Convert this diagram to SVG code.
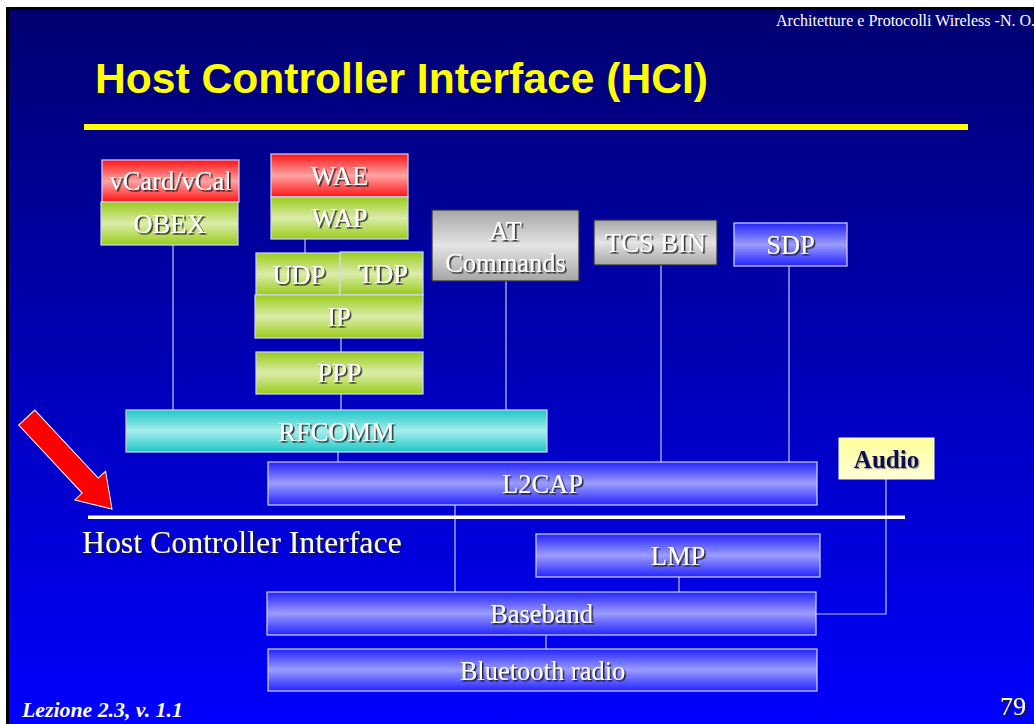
<svg xmlns="http://www.w3.org/2000/svg" width="1034" height="724" viewBox="0 0 1034 724">
<defs>
<linearGradient id="bg" x1="0" y1="0" x2="0" y2="1">
<stop offset="0" stop-color="#000070"/>
<stop offset="0.45" stop-color="#0000b0"/>
<stop offset="1" stop-color="#0000ff"/>
</linearGradient>
<linearGradient id="gGreen" x1="0" y1="0" x2="0" y2="1">
<stop offset="0" stop-color="#99cc1a"/>
<stop offset="0.5" stop-color="#dcecaa"/>
<stop offset="1" stop-color="#99cc1a"/>
</linearGradient>
<linearGradient id="gRed" x1="0" y1="0" x2="0" y2="1">
<stop offset="0" stop-color="#ff1414"/>
<stop offset="0.5" stop-color="#ffa4a4"/>
<stop offset="1" stop-color="#ff1414"/>
</linearGradient>
<linearGradient id="gGray" x1="0" y1="0" x2="0" y2="1">
<stop offset="0" stop-color="#a6a6a6"/>
<stop offset="0.5" stop-color="#e4e4e4"/>
<stop offset="1" stop-color="#a6a6a6"/>
</linearGradient>
<linearGradient id="gBlue" x1="0" y1="0" x2="0" y2="1">
<stop offset="0" stop-color="#2424ff"/>
<stop offset="0.5" stop-color="#9c9cff"/>
<stop offset="1" stop-color="#2424ff"/>
</linearGradient>
<linearGradient id="gCyan" x1="0" y1="0" x2="0" y2="1">
<stop offset="0" stop-color="#1ec6c6"/>
<stop offset="0.5" stop-color="#a8eeee"/>
<stop offset="1" stop-color="#1ec6c6"/>
</linearGradient>
<linearGradient id="gYellow" x1="0" y1="0" x2="0" y2="1">
<stop offset="0" stop-color="#ffff99"/>
<stop offset="1" stop-color="#ffffd8"/>
</linearGradient>
<filter id="sh" x="-10%" y="-20%" width="130%" height="150%">
<feDropShadow dx="1.6" dy="1.6" stdDeviation="0" flood-color="#1a1a1a" flood-opacity="0.9"/>
</filter>
<filter id="shL" x="-10%" y="-20%" width="130%" height="150%">
<feDropShadow dx="1.2" dy="1.2" stdDeviation="0" flood-color="#888888" flood-opacity="0.8"/>
</filter>
</defs>
<style>
.box { stroke: #d4d4ff; stroke-width: 1.2; }
.dark { stroke: #303030; stroke-width: 1.2; }
.lbl { font-family: "Liberation Serif", "Times New Roman", serif; font-size: 26.5px; fill: #ffffff; text-anchor: middle; filter: url(#sh); }
.conn line, .conn polyline { stroke: #c4c4ff; stroke-width: 1.2; fill: none; }
</style>

<!-- frame and background -->
<rect x="0" y="0" width="1034" height="724" fill="#ffffff"/>
<rect x="6" y="7" width="1028" height="717" fill="#000000"/>
<rect x="9" y="10" width="1025" height="714" fill="url(#bg)"/>

<text x="776" y="26" font-family="Liberation Serif, Times New Roman, serif" font-size="16" fill="#ffffff">Architetture e Protocolli Wireless -N. O.</text>
<text x="95" y="93" font-family="Liberation Sans, Arial, sans-serif" font-weight="bold" font-size="42.6" fill="#ffff00">Host Controller Interface (HCI)</text>
<rect x="84" y="124" width="884" height="6" fill="#ffff00"/>

<!-- connectors -->
<g id="connectors" class="conn">
<line x1="173" y1="245" x2="173" y2="410"/>
<line x1="305" y1="239" x2="305" y2="253"/>
<line x1="341" y1="338" x2="341" y2="352"/>
<line x1="341" y1="394" x2="341" y2="410"/>
<line x1="506" y1="281" x2="506" y2="410"/>
<line x1="661" y1="265" x2="661" y2="462"/>
<line x1="789" y1="266" x2="789" y2="462"/>
<line x1="338" y1="452" x2="338" y2="462"/>
<line x1="455" y1="505" x2="455" y2="592"/>
<line x1="679" y1="577" x2="679" y2="592"/>
<line x1="546" y1="635" x2="546" y2="649"/>
<polyline points="886,479 886,614 816,614"/>
</g>

<!-- nodes -->
<g id="vcard"><rect class="box" x="102" y="160" width="137" height="42" fill="url(#gRed)"/><text class="lbl" x="170.5" y="190">vCard/vCal</text></g>
<g id="obex"><rect class="box" x="101" y="202" width="137" height="43" fill="url(#gGreen)"/><text class="lbl" x="169.5" y="233">OBEX</text></g>
<g id="wae"><rect class="box" x="271" y="154" width="137" height="43" fill="url(#gRed)"/><text class="lbl" x="339.5" y="185">WAE</text></g>
<g id="wap"><rect class="box" x="271" y="197" width="137" height="42" fill="url(#gGreen)"/><text class="lbl" x="339.5" y="227">WAP</text></g>
<g id="udp"><rect class="box" x="256" y="253" width="84" height="42" fill="url(#gGreen)"/><text class="lbl" x="299" y="284">UDP</text></g>
<g id="tdp"><rect class="box" x="340" y="252" width="83" height="43" fill="url(#gGreen)"/><text class="lbl" x="383" y="283">TDP</text></g>
<g id="ip"><rect class="box" x="255" y="295" width="168" height="43" fill="url(#gGreen)"/><text class="lbl" x="339" y="326">IP</text></g>
<g id="ppp"><rect class="box" x="256" y="352" width="167" height="42" fill="url(#gGreen)"/><text class="lbl" x="339.5" y="382">PPP</text></g>
<g id="at"><rect class="dark" x="432" y="210" width="147" height="71" fill="url(#gGray)"/><text class="lbl" x="505.5" y="240">AT</text><text class="lbl" x="505.5" y="272">Commands</text></g>
<g id="tcsbin"><rect class="dark" x="594" y="220" width="123" height="45" fill="url(#gGray)"/><text class="lbl" x="655.5" y="252">TCS BIN</text></g>
<g id="sdp"><rect class="box" x="734" y="223" width="113" height="43" fill="url(#gBlue)"/><text class="lbl" x="790.5" y="254">SDP</text></g>
<g id="rfcomm"><rect class="box" x="126" y="410" width="421" height="42" fill="url(#gCyan)"/><text class="lbl" x="336.5" y="441">RFCOMM</text></g>
<g id="l2cap"><rect class="box" x="268" y="462" width="549" height="43" fill="url(#gBlue)"/><text class="lbl" x="542.5" y="493">L2CAP</text></g>
<g id="audio"><rect x="839" y="438" width="95" height="41" fill="url(#gYellow)" stroke="#ffffcc" stroke-width="1"/><text x="886.5" y="468" font-family="Liberation Serif, Times New Roman, serif" font-weight="bold" font-size="25" fill="#0a0a50" text-anchor="middle" filter="url(#shL)">Audio</text></g>
<g id="lmp"><rect class="box" x="536" y="534" width="284" height="43" fill="url(#gBlue)"/><text class="lbl" x="678" y="565">LMP</text></g>
<g id="baseband"><rect class="box" x="267" y="592" width="549" height="43" fill="url(#gBlue)"/><text class="lbl" x="541.5" y="623">Baseband</text></g>
<g id="radio"><rect class="box" x="268" y="649" width="549" height="42" fill="url(#gBlue)"/><text class="lbl" x="542.5" y="680">Bluetooth radio</text></g>

<!-- HCI boundary -->
<g id="hci">
<rect x="88" y="515.5" width="817" height="3.5" fill="#ffffff"/>
<text x="82" y="553" font-family="Liberation Serif, Times New Roman, serif" font-size="31.8" fill="#ffffff" filter="url(#sh)">Host Controller Interface</text>
</g>

<!-- red arrow -->
<g id="arrow" transform="translate(112,509) rotate(47)">
<polygon points="-125,-11 -32,-11 -32,-21 0,0 -32,21 -32,11 -125,11" fill="#ff0000" stroke="#ffffff" stroke-width="1"/>
</g>

<text x="22" y="717" font-family="Liberation Serif, Times New Roman, serif" font-weight="bold" font-style="italic" font-size="21.8" fill="#ffffff">Lezione 2.3, v. 1.1</text>
<text x="1026" y="715" font-family="Liberation Serif, Times New Roman, serif" font-size="26" fill="#ffffff" text-anchor="end" filter="url(#sh)">79</text>
</svg>
